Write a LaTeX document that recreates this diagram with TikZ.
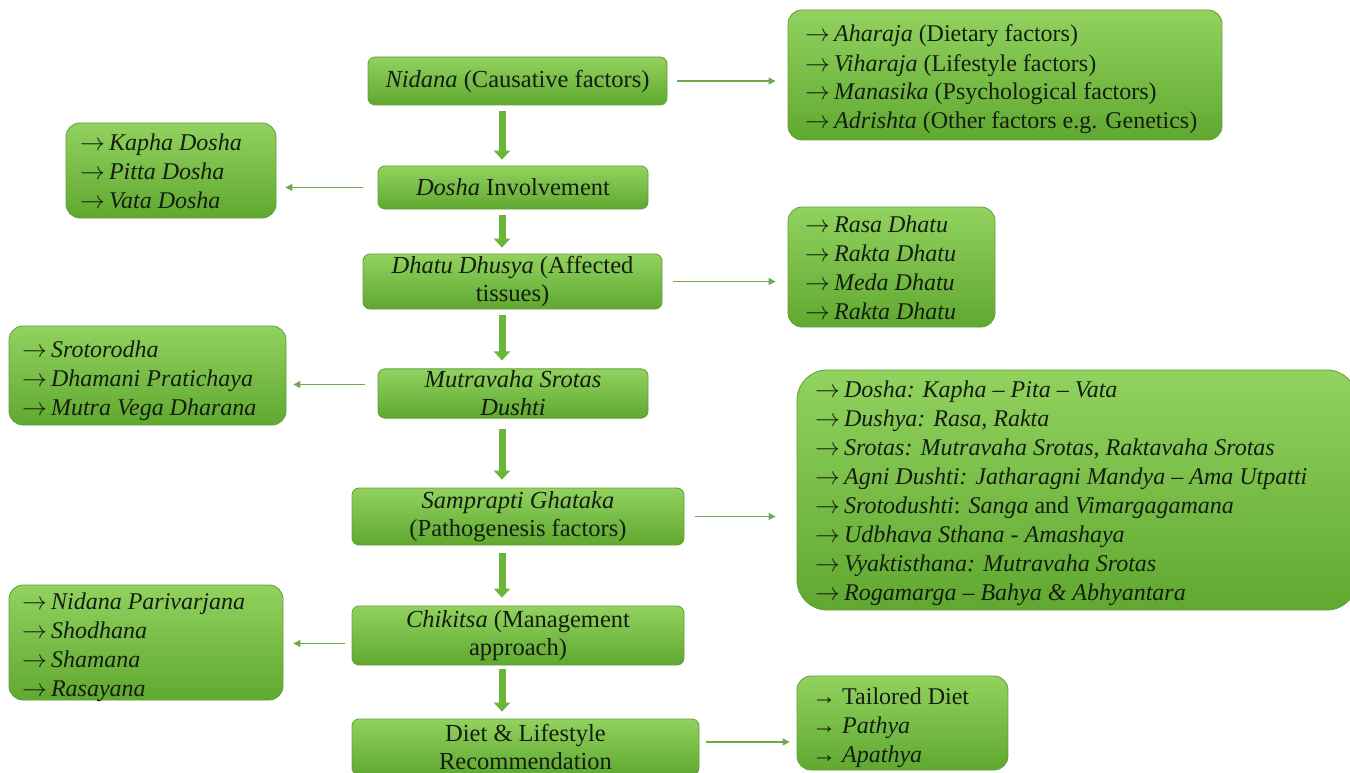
\documentclass[tikz,border=0pt]{standalone}
\usepackage{fontspec}
\setmainfont{Liberation Serif}
\usetikzlibrary{arrows.meta}
\definecolor{gtop}{RGB}{146,210,95}
\definecolor{gbot}{RGB}{96,168,48}
\definecolor{gedge}{RGB}{98,158,58}
\definecolor{garrow}{RGB}{112,168,78}
\definecolor{gthick}{RGB}{108,180,58}
\definecolor{ink}{RGB}{20,30,15}
\tikzset{
  mainbox/.style={draw=gedge, line width=0.8pt, rounded corners=7pt,
    top color=gtop, bottom color=gbot, align=center, inner sep=2pt, text=ink,
    font=\fontsize{24.5}{28}\selectfont},
  listbox/.style={draw=gedge, line width=0.8pt, rounded corners=14pt,
    top color=gtop, bottom color=gbot},
  listtext/.style={align=left, inner sep=0pt, anchor=base west, text=ink,
    font=\fontsize{24}{29}\selectfont},
  thin/.style={draw=garrow, line width=1.2pt, -{Triangle[width=7pt,length=7pt]}},
  thickarr/.style={draw=gthick, line width=7pt, -{Triangle[width=16pt,length=9pt]}}
}
\newcommand{\ar}{$\rightarrow$\,}
\newcommand{\ari}{\textrightarrow\ }
\begin{document}
\begin{tikzpicture}[x=1pt,y=-1pt]
\useasboundingbox (0,0) rectangle (1350,773);
% main column
\node[mainbox, minimum width=299pt, minimum height=48pt] (n1) at (517.5,81) {\textit{Nidana} (Causative factors)};
\node[mainbox, minimum width=270pt, minimum height=43pt] (n2) at (513,187.5) {\textit{Dosha} Involvement};
\node[mainbox, minimum width=299pt, minimum height=55pt] (n3) at (512.5,281.5) {\textit{Dhatu Dhusya} (Affected\\tissues)};
\node[mainbox, minimum width=270pt, minimum height=49pt] (n4) at (513,393.5) {\textit{Mutravaha Srotas}\\\textit{Dushti}};
\node[mainbox, minimum width=332pt, minimum height=57pt] (n5) at (518,516.5) {\textit{Samprapti Ghataka}\\(Pathogenesis factors)};
\node[mainbox, minimum width=332pt, minimum height=59pt] (n6) at (518,635.5) {\textit{Chikitsa} (Management\\approach)};
\node[mainbox, minimum width=347pt, minimum height=56pt] (n7) at (525.5,747) {Diet \& Lifestyle\\Recommendation};
% side list boxes
\node[listbox, minimum width=434pt, minimum height=130pt] (l1) at (1005,75) {};
\node[listbox, minimum width=210pt, minimum height=95pt] (l2) at (171,170.5) {};
\node[listbox, minimum width=207pt, minimum height=120pt] (l3) at (891.5,267) {};
\node[listbox, minimum width=277pt, minimum height=99pt] (l4) at (147.5,375.5) {};
\node[listbox, rounded corners=30pt, minimum width=560pt, minimum height=240pt] (l5) at (1077,490) {};
\node[listbox, minimum width=274pt, minimum height=115pt] (l6) at (146,642.5) {};
\node[listbox, minimum width=211pt, minimum height=94pt] (l7) at (902.5,723) {};
% list texts (anchored at baseline of last line)
\node[listtext] (t1) at (805,129)
 {\ar\textit{Aharaja} (Dietary factors)\\\ar\textit{Viharaja} (Lifestyle factors)\\\ar\textit{Manasika} (Psychological factors)\\\ar\textit{Adrishta} (Other factors e.g. Genetics)};
\node[listtext] (t2) at (80,208)
 {\ar\textit{Kapha Dosha}\\\ar\textit{Pitta Dosha}\\\ar\textit{Vata Dosha}};
\node[listtext] (t3) at (805,319)
 {\ar\textit{Rasa Dhatu}\\\ar\textit{Rakta Dhatu}\\\ar\textit{Meda Dhatu}\\\ar\textit{Rakta Dhatu}};
\node[listtext] (t4) at (22,415)
 {\ar\textit{Srotorodha}\\\ar\textit{Dhamani Pratichaya}\\\ar\textit{Mutra Vega Dharana}};
\node[listtext] (t5) at (815,600)
 {\ar\textit{Dosha: Kapha -- Pita -- Vata}\\\ar\textit{Dushya: Rasa, Rakta}\\\ar\textit{Srotas: Mutravaha Srotas, Raktavaha Srotas}\\\ar\textit{Agni Dushti: Jatharagni Mandya -- Ama Utpatti}\\\ar\textit{Srotodushti}: \textit{Sanga} and \textit{Vimargagamana}\\\ar\textit{Udbhava Sthana - Amashaya}\\\ar\textit{Vyaktisthana: Mutravaha Srotas}\\\ar\textit{Rogamarga -- Bahya \& Abhyantara}};
\node[listtext] (t6) at (22,696)
 {\ar\textit{Nidana Parivarjana}\\\ar\textit{Shodhana}\\\ar\textit{Shamana}\\\ar\textit{Rasayana}};
\node[listtext] (t7) at (812,762)
 {\ari Tailored Diet\\\ari\textit{Pathya}\\\ari\textit{Apathya}};
% thick arrows
\coordinate (col) at (502,0);
\draw[thickarr] ([yshift=-6pt]n1.south -| col) -- ([yshift=6pt]n2.north -| col);
\draw[thickarr] ([yshift=-6pt]n2.south -| col) -- ([yshift=6pt]n3.north -| col);
\draw[thickarr] ([yshift=-6pt]n3.south -| col) -- ([yshift=8pt]n4.north -| col);
\draw[thickarr] ([yshift=-10pt]n4.south -| col) -- ([yshift=8pt]n5.north -| col);
\draw[thickarr] ([yshift=-8pt]n5.south -| col) -- ([yshift=8pt]n6.north -| col);
\draw[thickarr] ([yshift=-4pt]n6.south -| col) -- ([yshift=7pt]n7.north -| col);
% thin arrows
\draw[thin] ([xshift=10pt]n1.east) -- ([xshift=-12pt]l1.west |- n1.east);
\draw[thin] ([xshift=-15pt]n2.west) -- ([xshift=9pt]l2.east |- n2.west);
\draw[thin] ([xshift=11pt]n3.east) -- ([xshift=-12pt]l3.west |- n3.east);
\draw[thin] ([xshift=-13pt,yshift=9pt]n4.west) -- ([xshift=7pt,yshift=9pt]l4.east |- n4.west);
\draw[thin] ([xshift=11pt]n5.east) -- ([xshift=-21pt]l5.west |- n5.east);
\draw[thin] ([xshift=-7pt,yshift=-8pt]n6.west) -- ([xshift=10pt,yshift=-8pt]l6.east |- n6.west);
\draw[thin] ([xshift=7pt,yshift=5pt]n7.east) -- ([xshift=-7pt,yshift=5pt]l7.west |- n7.east);
\end{tikzpicture}
\end{document}
